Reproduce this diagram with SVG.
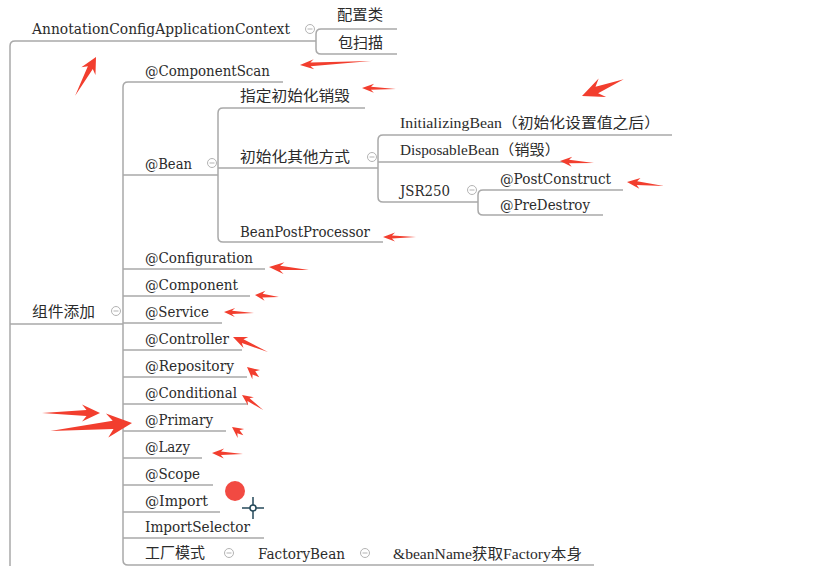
<svg xmlns="http://www.w3.org/2000/svg" xmlns:xlink="http://www.w3.org/1999/xlink" width="839" height="566" viewBox="0 0 839 566">
<style>
.t{font-family:"DejaVu Serif","Noto Sans CJK SC",serif;font-size:14px;fill:#2b2b2b}
.m{font-family:"Liberation Serif","Noto Sans CJK SC",serif;font-size:14.5px;fill:#2b2b2b}
.c{font-family:"Noto Sans CJK SC","Liberation Sans",sans-serif;font-size:14.5px;fill:#2b2b2b}
.ln{fill:none;stroke:#a9a9a9;stroke-width:1.5}
.col{fill:#fff;stroke:#b3b3b3;stroke-width:1}
.mn{stroke:#b3b3b3;stroke-width:1}
.ar{fill:#f23e2e}
</style>
<defs>
<g id="collapse"><circle class="col" cx="0" cy="0" r="4.5"/><line class="mn" x1="-2.5" y1="0" x2="2.5" y2="0"/></g>
</defs>
<rect width="839" height="566" fill="#fff"/>
<g id="connectors">
<path class="ln" d="M316,41 H15 Q10,41 10,46 V566"/>
<path class="ln" d="M397,29 H321 Q316,29 316,34 V49 Q316,54 321,54 H397"/>
<path class="ln" d="M123,324 H10"/>
<path class="ln" d="M283,82 H128 Q123,82 123,87 V560 Q123,565 128,565 H594"/>
<path class="ln" d="M123,175 H218"/>
<path class="ln" d="M365,108 H223 Q218,108 218,113 V237 Q218,242 223,242 H383"/>
<path class="ln" d="M218,168 H378"/>
<path class="ln" d="M672,135 H383 Q378,135 378,140 V197 Q378,202 383,202 H478"/>
<path class="ln" d="M378,162 H572"/>
<path class="ln" d="M623,190 H483 Q478,190 478,195 V210 Q478,215 483,215 H603"/>
<path class="ln" d="M123,269 H265 M123,296 H250 M123,323 H222 M123,350 H242 M123,377 H247 M123,404 H248 M123,431 H226 M123,458 H202 M123,485 H213 M123,512 H220 M123,538 H264"/>
</g>
<g id="n-context"><text class="t" x="32" y="34" textLength="258" lengthAdjust="spacingAndGlyphs">AnnotationConfigApplicationContext</text><use xlink:href="#collapse" x="310" y="29"/></g>
<g id="n-config-class"><text class="c" x="337" y="20" textLength="46" lengthAdjust="spacingAndGlyphs">配置类</text></g>
<g id="n-package-scan"><text class="c" x="338" y="48" textLength="45" lengthAdjust="spacingAndGlyphs">包扫描</text></g>
<g id="n-component-add"><text class="c" x="32" y="317" textLength="63" lengthAdjust="spacingAndGlyphs">组件添加</text><use xlink:href="#collapse" x="116" y="311"/></g>
<g id="n-componentscan"><text class="t" x="145" y="76" textLength="125" lengthAdjust="spacingAndGlyphs">@ComponentScan</text></g>
<g id="n-bean"><text class="t" x="145" y="169" textLength="47" lengthAdjust="spacingAndGlyphs">@Bean</text><use xlink:href="#collapse" x="212" y="163"/></g>
<g id="n-init-destroy"><text class="c" x="240" y="101" textLength="110" lengthAdjust="spacingAndGlyphs">指定初始化销毁</text></g>
<g id="n-init-other"><text class="c" x="240" y="162" textLength="110" lengthAdjust="spacingAndGlyphs">初始化其他方式</text><use xlink:href="#collapse" x="372" y="157"/></g>
<g id="n-initializingbean"><text class="m" x="400" y="128" textLength="260" lengthAdjust="spacingAndGlyphs">InitializingBean（初始化设置值之后）</text></g>
<g id="n-disposablebean"><text class="m" x="400" y="155" textLength="160" lengthAdjust="spacingAndGlyphs">DisposableBean（销毁）</text></g>
<g id="n-jsr250"><text class="t" x="400" y="196" textLength="50" lengthAdjust="spacingAndGlyphs">JSR250</text><use xlink:href="#collapse" x="472" y="190"/></g>
<g id="n-postconstruct"><text class="t" x="500" y="184" textLength="111" lengthAdjust="spacingAndGlyphs">@PostConstruct</text></g>
<g id="n-predestroy"><text class="t" x="500" y="210" textLength="90" lengthAdjust="spacingAndGlyphs">@PreDestroy</text></g>
<g id="n-beanpostprocessor"><text class="t" x="240" y="237" textLength="130" lengthAdjust="spacingAndGlyphs">BeanPostProcessor</text></g>
<g id="n-configuration"><text class="t" x="145" y="263" textLength="108" lengthAdjust="spacingAndGlyphs">@Configuration</text></g>
<g id="n-component"><text class="t" x="145" y="290" textLength="93" lengthAdjust="spacingAndGlyphs">@Component</text></g>
<g id="n-service"><text class="t" x="145" y="317" textLength="64" lengthAdjust="spacingAndGlyphs">@Service</text></g>
<g id="n-controller"><text class="t" x="145" y="344" textLength="84" lengthAdjust="spacingAndGlyphs">@Controller</text></g>
<g id="n-repository"><text class="t" x="145" y="371" textLength="89" lengthAdjust="spacingAndGlyphs">@Repository</text></g>
<g id="n-conditional"><text class="t" x="145" y="398" textLength="92" lengthAdjust="spacingAndGlyphs">@Conditional</text></g>
<g id="n-primary"><text class="t" x="145" y="425" textLength="68" lengthAdjust="spacingAndGlyphs">@Primary</text></g>
<g id="n-lazy"><text class="t" x="145" y="452" textLength="45" lengthAdjust="spacingAndGlyphs">@Lazy</text></g>
<g id="n-scope"><text class="t" x="145" y="479" textLength="55" lengthAdjust="spacingAndGlyphs">@Scope</text></g>
<g id="n-import"><text class="t" x="145" y="506" textLength="63" lengthAdjust="spacingAndGlyphs">@Import</text></g>
<g id="n-importselector"><text class="t" x="145" y="532" textLength="105" lengthAdjust="spacingAndGlyphs">ImportSelector</text></g>
<g id="n-factory-pattern"><text class="c" x="145" y="558" textLength="60" lengthAdjust="spacingAndGlyphs">工厂模式</text><use xlink:href="#collapse" x="229" y="553"/></g>
<g id="n-factorybean"><text class="t" x="258" y="559" textLength="87" lengthAdjust="spacingAndGlyphs">FactoryBean</text><use xlink:href="#collapse" x="365" y="553"/></g>
<g id="n-beanname"><text class="m" x="393" y="559" textLength="189" lengthAdjust="spacingAndGlyphs">&amp;beanName获取Factory本身</text></g>
<g id="annotations">
<path class="ar" transform="translate(96,57) rotate(-61.7)" d="M0,0 L-16,-8 L-12,-2.8 L-44,0 L-12,2.8 L-16,8Z"/>
<path class="ar" transform="translate(300,65) rotate(176.8)" d="M0,0 L-14,-5 L-10.5,-1.8 L-71,0 L-10.5,1.8 L-14,5Z"/>
<path class="ar" transform="translate(362,88) rotate(-178.3)" d="M0,0 L-12,-4.5 L-9,-1.6 L-34,0 L-9,1.6 L-12,4.5Z"/>
<path class="ar" transform="translate(582,96) rotate(158)" d="M0,0 L-22,-10 L-16,-3.5 L-45,0 L-16,3.5 L-22,10Z"/>
<path class="ar" transform="translate(560,161) rotate(-176.6)" d="M0,0 L-12,-5 L-9,-1.8 L-34,0 L-9,1.8 L-12,5Z"/>
<path class="ar" transform="translate(627,182) rotate(-173.8)" d="M0,0 L-13,-5.5 L-10,-1.9 L-37,0 L-10,1.9 L-13,5.5Z"/>
<path class="ar" transform="translate(383,237) rotate(180)" d="M0,0 L-12,-4.5 L-9,-1.6 L-33,0 L-9,1.6 L-12,4.5Z"/>
<path class="ar" transform="translate(269,267) rotate(-175.7)" d="M0,0 L-15,-6 L-11,-2.1 L-40,0 L-11,2.1 L-15,6Z"/>
<path class="ar" transform="translate(255,295) rotate(-175.2)" d="M0,0 L-10,-5 L-7.5,-1.8 L-24,0 L-7.5,1.8 L-10,5Z"/>
<path class="ar" transform="translate(224,312) rotate(-178)" d="M0,0 L-11,-4.5 L-8,-1.6 L-30,0 L-8,1.6 L-11,4.5Z"/>
<path class="ar" transform="translate(233,337) rotate(-156.8)" d="M0,0 L-14,-6 L-10.5,-2.1 L-38,0 L-10.5,2.1 L-14,6Z"/>
<path class="ar" transform="translate(247,367) rotate(-140)" d="M0,0 L-12,-6 L-9,-2.1 L-16,0 L-9,2.1 L-12,6Z"/>
<path class="ar" transform="translate(242,395) rotate(-144.5)" d="M0,0 L-11,-5 L-8,-1.8 L-26,0 L-8,1.8 L-11,5Z"/>
<path class="ar" transform="translate(232,427) rotate(-144)" d="M0,0 L-11,-5.5 L-8,-1.9 L-14,0 L-8,1.9 L-11,5.5Z"/>
<path class="ar" transform="translate(212,453) rotate(-178)" d="M0,0 L-12,-5 L-9,-1.8 L-31,0 L-9,1.8 L-12,5Z"/>
<path class="ar" transform="translate(100,413)" d="M0,0 L-18,-8.5 L-13.5,-3 L-58,0 L-13.5,3 L-18,8.5Z"/>
<path class="ar" transform="translate(132,423) rotate(-5.6)" d="M0,0 L-25,-12 L-19,-4.2 L-82,0 L-19,4.2 L-25,12Z"/>
<circle cx="235" cy="491" r="10" fill="#f24a42"/>
<g stroke="#24495a" stroke-width="1.5" fill="none"><line x1="242" y1="508" x2="264" y2="508"/><line x1="253" y1="497" x2="253" y2="519"/><circle cx="253" cy="508" r="3" fill="#fff"/></g>
</g>
</svg>
